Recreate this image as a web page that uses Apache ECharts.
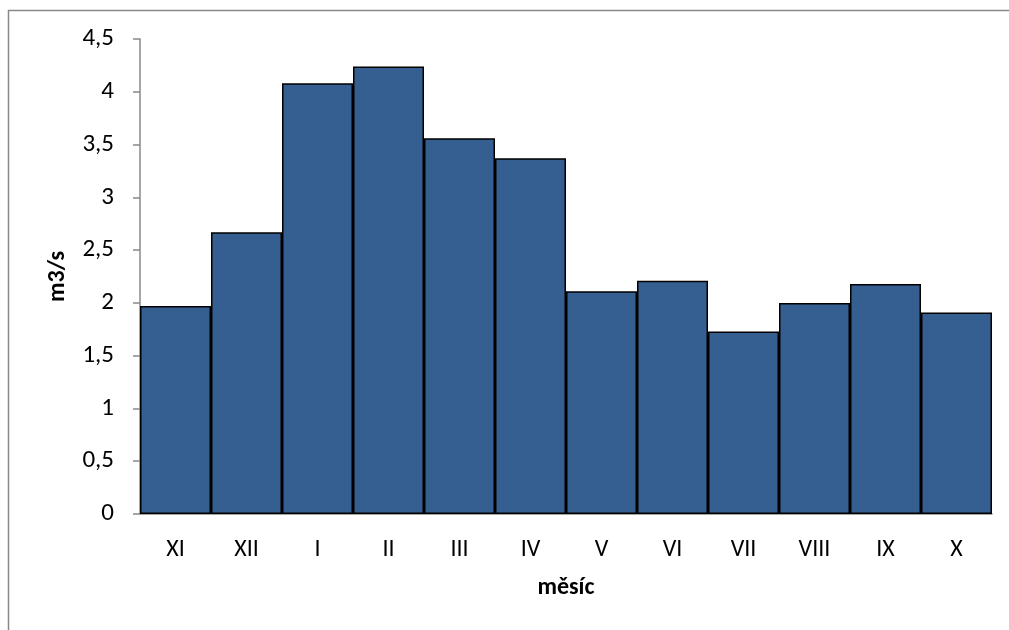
<!DOCTYPE html>
<html><head><meta charset="utf-8">
<script src="https://cdn.jsdelivr.net/npm/echarts@6/dist/echarts.min.js"></script>
<style>html,body{margin:0;padding:0;background:#fff}#c{width:1009px;height:630px}</style>
</head><body><div id="c"></div>
<script>
const categories = ['XI','XII','I','II','III','IV','V','VI','VII','VIII','IX','X'];
const flow = [1.97, 2.67, 4.08, 4.24, 3.56, 3.37, 2.11, 2.21, 1.73, 2.00, 2.18, 1.91];
const yTicks = ['0','0,5','1','1,5','2','2,5','3','3,5','4','4,5'];
const font = 'Carlito, Calibri, "Open Sans", "Noto Sans", sans-serif';
const chart = echarts.init(document.getElementById('c'), null, {renderer:'canvas'});
chart.setOption({
  animation:false,
  graphic:[{type:'rect',shape:{x:8.5,y:10.5,width:1100,height:700},style:{fill:'none',stroke:'#888',lineWidth:1.5},silent:true}],
  grid:{left:140,right:17,top:39,bottom:116,containLabel:false},
  xAxis:{type:'category',data:categories,
    axisLine:{lineStyle:{color:'#888',width:1.5}},axisTick:{show:false},
    axisLabel:{color:'#000',fontSize:24,fontFamily:font,margin:24},
    name:'měsíc',nameLocation:'middle',nameGap:62,
    nameTextStyle:{color:'#000',fontSize:24,fontWeight:'bold',fontFamily:font}},
  yAxis:{type:'value',min:0,max:4.5,interval:0.5,
    axisLine:{show:true,lineStyle:{color:'#888',width:1.5}},
    axisTick:{show:true,length:7,lineStyle:{color:'#888',width:1.5}},
    splitLine:{show:false},
    axisLabel:{color:'#000',fontSize:25,fontFamily:font,margin:26,
      formatter:(v)=>yTicks[Math.round(v*2)]},
    name:'m3/s',nameLocation:'middle',nameGap:70,
    nameTextStyle:{color:'#000',fontSize:24,fontWeight:'bold',fontFamily:font}},
  series:[{type:'bar',data:flow,barCategoryGap:'0%',
    itemStyle:{color:'#365F91',borderColor:'#000',borderWidth:1.5}}]
});
</script></body></html>
